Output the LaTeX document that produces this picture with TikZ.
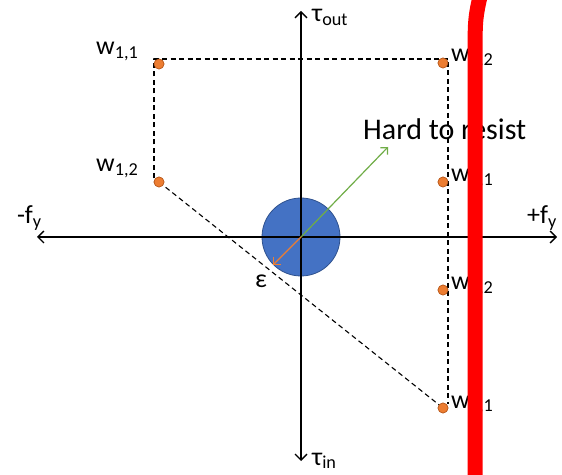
\documentclass[tikz,border=0pt]{standalone}
\usepackage{fontspec}
\setmainfont{Carlito}
\usetikzlibrary{arrows.meta}
\definecolor{dotorange}{HTML}{ED7D31}
\definecolor{dotedge}{HTML}{B85A1E}
\definecolor{ballblue}{HTML}{4472C4}
\definecolor{balledge}{HTML}{2F528F}
\definecolor{pushgreen}{HTML}{70AD47}
\definecolor{wallred}{HTML}{FF0000}

\begin{document}
\begin{tikzpicture}[
  x=1pt,y=1pt,line cap=round,line join=round,
  axis/.style={black,line width=1.4pt,{Straight Barb[length=6pt,width=12pt]}-{Straight Barb[length=6pt,width=12pt]}},
  guide/.style={black,line width=1.1pt,dash pattern=on 5pt off 3.5pt,line cap=butt},
  wrench/.style={circle,fill=dotorange,draw=dotedge,line width=0.6pt,minimum size=10pt,inner sep=0pt},
  push/.style={line width=1.2pt,-{Straight Barb[length=5pt,width=10pt]}},
  lab/.style={font=\fontsize{26}{30}\selectfont,inner sep=0pt,anchor=base west}
]
  \useasboundingbox[fill=white] (0,0) rectangle (562,474);

  % Origin and axis ends.
  \coordinate (O) at (301,237);
  \coordinate (fneg) at (37,237);
  \coordinate (fpos) at (557,237);
  \coordinate (tout) at (301,463);
  \coordinate (tin) at (301,13);

  % Wrench samples.
  \node[wrench] (w11) at (159,410) {};
  \node[wrench] (w12) at (159,292) {};
  \node[wrench] (w22) at (443,411) {};
  \node[wrench] (w21) at (443,292) {};
  \node[wrench] (w32) at (443,184) {};
  \node[wrench] (w31) at (443,66) {};

  % Dashed hull round the samples.
  \coordinate (boxtl) at (154,415);
  \coordinate (boxtr) at (448,415);
  \coordinate (boxbr) at (448,70);
  \coordinate (boxbl) at (154,292);
  \draw[guide] (w12.center) -- (boxbl) -- (boxtl) -- (boxtr) -- (boxbr);
  \draw[guide] (w12.center) -- (w31.center);
  \foreach \w in {w11,w12,w22,w21,w32,w31} {
    \node[wrench] at (\w) {};
  }

  % Disturbance ball and axes on top of it.
  \fill[ballblue,draw=balledge,line width=0.8pt] (O) circle[radius=39];
  \draw[axis] (fneg) -- (fpos);
  \draw[axis] (tin) -- (tout);

  % Pushes from the origin.
  \coordinate (hardtip) at (388,327);
  \coordinate (epstip) at (273,209);
  \draw[push,pushgreen] (O) -- (hardtip);
  \draw[push,dotorange] (O) -- (epstip);

  % Labels.
  \node[lab] (tauout) at (312,452) {τ\textsubscript{out}};
  \node[lab] (tauin) at (312,9) {τ\textsubscript{in}};
  \node[lab] (fminus) at (17,250) {-f\textsubscript{y}};
  \node[lab] (fplus) at (527,250) {+f\textsubscript{y}};
  \node[lab,anchor=base] (eps) at (261,186) {ε};
  \node[lab,font=\fontsize{30}{34}\selectfont] (hard) at (363,334) {Hard to resist};
  \node[lab] (l11) at (96,419) {w\textsubscript{1,1}};
  \node[lab] (l12) at (96,302) {w\textsubscript{1,2}};
  \node[lab] (l22) at (451,412) {w\textsubscript{2,2}};
  \node[lab] (l21) at (451,292) {w\textsubscript{2,1}};
  \node[lab] (l32) at (451,184) {w\textsubscript{3,2}};
  \node[lab] (l31) at (451,66) {w\textsubscript{3,1}};

  % Red limit line.
  \draw[wallred,line width=15pt] (481,482) .. controls (475,455) .. (475,410) -- (475,-8);
\end{tikzpicture}
\end{document}
